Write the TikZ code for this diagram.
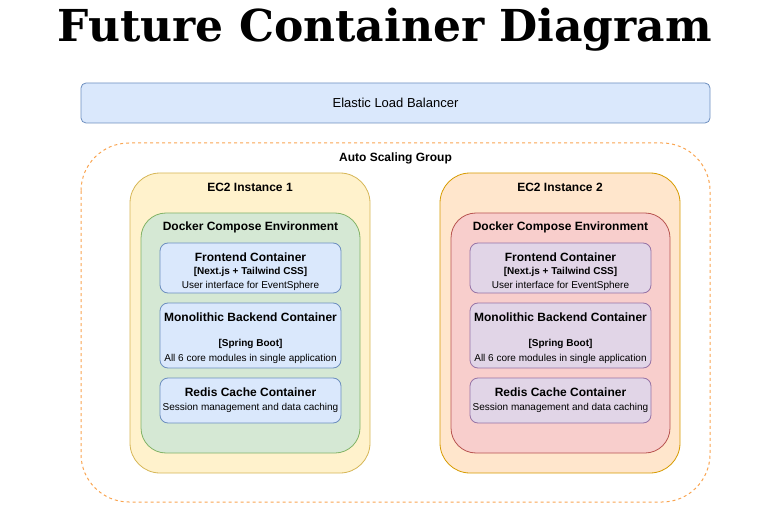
\documentclass[tikz,border=0pt]{standalone}
\usepackage{fontspec}
\setmainfont{Liberation Sans}
\newfontfamily\titlefont{DejaVu Serif}
\definecolor{bluefill}{HTML}{DAE8FC}
\definecolor{bluedraw}{HTML}{6C8EBF}
\definecolor{yelfill}{HTML}{FFF2CC}
\definecolor{yeldraw}{HTML}{D6B656}
\definecolor{grnfill}{HTML}{D5E8D4}
\definecolor{grndraw}{HTML}{82B366}
\definecolor{orgfill}{HTML}{FFE6CC}
\definecolor{orgdraw}{HTML}{D79B00}
\definecolor{redfill}{HTML}{F8CECC}
\definecolor{reddraw}{HTML}{B85450}
\definecolor{purfill}{HTML}{E1D5E7}
\definecolor{purdraw}{HTML}{9673A6}
\definecolor{asgdraw}{HTML}{F9A552}
\tikzset{
  box/.style={line width=0.8pt},
  ttl/.style={font=\fontsize{12}{14}\selectfont\bfseries, anchor=center},
  ctitle/.style={font=\fontsize{12}{14}\selectfont\bfseries, anchor=center},
  csub/.style={font=\fontsize{10}{12}\selectfont\bfseries, anchor=center},
  cdesc/.style={font=\fontsize{10}{12}\selectfont, anchor=center},
}
\begin{document}
\begin{tikzpicture}[x=1pt,y=-1pt]
\useasboundingbox (0,0) rectangle (771,505);
\node[font=\titlefont\fontsize{44}{50}\selectfont\bfseries] (title) at (385,30) {Future Container Diagram};
% ELB
\draw[box, fill=bluefill, draw=bluedraw, rounded corners=5] (81,83) rectangle (710,123);
\node[font=\fontsize{13}{15}\selectfont] (elb) at (395.5,103) {Elastic Load Balancer};
% ASG
\draw[line width=1pt, draw=asgdraw, dash pattern=on 3pt off 3pt, rounded corners=48] (81,143) rectangle (710,502);
\node[ttl] (asg) at (395.5,158) {Auto Scaling Group};
% Instance 1
\draw[box, fill=yelfill, draw=yeldraw, rounded corners=30] (130,173) rectangle (370,473);
\node[ttl] (ec1) at (250,187) {EC2 Instance 1};
\draw[box, fill=grnfill, draw=grndraw, rounded corners=25] (141,213) rectangle (360,453);
\node[ttl] (dc1) at (250.5,227) {Docker Compose Environment};
\draw[box, fill=bluefill, draw=bluedraw, rounded corners=8] (160,243) rectangle (341,293);
\node[ctitle] (fe1) at (250.5,257) {Frontend Container};
\node[csub] (fe1s) at (250.5,271.5) {[Next.js + Tailwind CSS]};
\node[cdesc] (fe1d) at (250.5,286) {User interface for EventSphere};
\draw[box, fill=bluefill, draw=bluedraw, rounded corners=8] (160,303) rectangle (341,368);
\node[ctitle] (be1) at (250.5,317) {Monolithic Backend Container};
\node[csub] (be1s) at (250.5,343.5) {[Spring Boot]};
\node[cdesc] (be1d) at (250.5,358.5) {All 6 core modules in single application};
\draw[box, fill=bluefill, draw=bluedraw, rounded corners=8] (160,378) rectangle (341,423);
\node[ctitle] (rc1) at (250.5,392) {Redis Cache Container};
\node[cdesc] (rc1d) at (250.5,407.5) {Session management and data caching};
% Instance 2
\draw[box, fill=orgfill, draw=orgdraw, rounded corners=30] (440,173) rectangle (680,473);
\node[ttl] (ec2) at (560,187) {EC2 Instance 2};
\draw[box, fill=redfill, draw=reddraw, rounded corners=25] (451,213) rectangle (670,453);
\node[ttl] (dc2) at (560.5,227) {Docker Compose Environment};
\draw[box, fill=purfill, draw=purdraw, rounded corners=8] (470,243) rectangle (651,293);
\node[ctitle] (fe2) at (560.5,257) {Frontend Container};
\node[csub] (fe2s) at (560.5,271.5) {[Next.js + Tailwind CSS]};
\node[cdesc] (fe2d) at (560.5,286) {User interface for EventSphere};
\draw[box, fill=purfill, draw=purdraw, rounded corners=8] (470,303) rectangle (651,368);
\node[ctitle] (be2) at (560.5,317) {Monolithic Backend Container};
\node[csub] (be2s) at (560.5,343.5) {[Spring Boot]};
\node[cdesc] (be2d) at (560.5,358.5) {All 6 core modules in single application};
\draw[box, fill=purfill, draw=purdraw, rounded corners=8] (470,378) rectangle (651,423);
\node[ctitle] (rc2) at (560.5,392) {Redis Cache Container};
\node[cdesc] (rc2d) at (560.5,407.5) {Session management and data caching};
\end{tikzpicture}
\end{document}
